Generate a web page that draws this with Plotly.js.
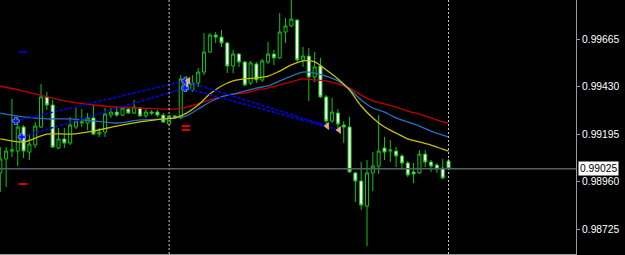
<!DOCTYPE html>
<html>
<head>
<meta charset="utf-8">
<script src="https://cdn.plot.ly/plotly-3.0.1.min.js"></script>
<style>
  html, body { margin: 0; padding: 0; background: #000; }
  #chart { width: 625px; height: 255px; }
</style>
</head>
<body>
<div id="chart"></div>
<script>
// ---- candle data (bar index, OHLC) ----
const barIndex = Array.from({length: 78}, (_, i) => i);
const openP = [0.99004,0.99073,0.99112,0.99112,0.99231,0.99107,0.99142,0.99231,0.99380,0.99340,
               0.99127,0.99172,0.99152,0.99231,0.99251,0.99251,0.99276,0.99196,0.99206,0.99290,
               0.99305,0.99290,0.99320,0.99300,0.99325,0.99286,0.99305,0.99305,0.99290,0.99246,
               0.99286,0.99276,0.99469,0.99414,0.99449,0.99503,0.99602,0.99686,0.99676,0.99647,
               0.99533,0.99592,0.99553,0.99449,0.99543,0.99464,0.99553,0.99592,0.99573,0.99701,
               0.99731,0.99760,0.99563,0.99582,0.99478,0.99533,0.99380,0.99261,0.99300,0.99241,
               0.99231,0.99004,0.98964,0.98840,0.99004,0.99038,0.99127,0.99112,0.99112,0.99088,
               0.99053,0.99009,0.99004,0.99097,0.99058,0.99043,0.99028,0.99063];
const highP = [0.99132,0.99132,0.99370,0.99281,0.99241,0.99196,0.99256,0.99444,0.99404,0.99365,
               0.99226,0.99226,0.99281,0.99325,0.99320,0.99300,0.99340,0.99226,0.99325,0.99325,
               0.99330,0.99330,0.99330,0.99365,0.99330,0.99320,0.99315,0.99315,0.99300,0.99290,
               0.99290,0.99488,0.99483,0.99488,0.99523,0.99696,0.99696,0.99701,0.99711,0.99652,
               0.99612,0.99597,0.99558,0.99558,0.99553,0.99568,0.99652,0.99612,0.99795,0.99770,
               0.99862,0.99765,0.99627,0.99622,0.99602,0.99573,0.99389,0.99375,0.99320,0.99261,
               0.99281,0.99009,0.99058,0.99068,0.99107,0.99290,0.99182,0.99167,0.99132,0.99097,
               0.99063,0.99053,0.99117,0.99117,0.99068,0.99053,0.99073,0.99073];
const lowP  = [0.98910,0.98934,0.99083,0.99038,0.99078,0.99068,0.99127,0.99226,0.99315,0.99127,
               0.99122,0.99127,0.99142,0.99221,0.99231,0.99216,0.99191,0.99182,0.99182,0.99276,
               0.99281,0.99286,0.99295,0.99295,0.99281,0.99276,0.99290,0.99281,0.99251,0.99241,
               0.99271,0.99271,0.99404,0.99404,0.99429,0.99488,0.99597,0.99647,0.99627,0.99498,
               0.99498,0.99528,0.99434,0.99439,0.99449,0.99454,0.99543,0.99538,0.99568,0.99647,
               0.99726,0.99553,0.99528,0.99360,0.99454,0.99375,0.99231,0.99251,0.99226,0.99152,
               0.99004,0.98860,0.98821,0.98642,0.98914,0.98999,0.99068,0.99058,0.99033,0.99018,
               0.98984,0.98954,0.98999,0.99033,0.99009,0.99004,0.98974,0.99023];
const closeP = [0.99073,0.99112,0.99117,0.99231,0.99112,0.99147,0.99236,0.99380,0.99340,0.99132,
               0.99172,0.99152,0.99241,0.99261,0.99256,0.99276,0.99196,0.99206,0.99295,0.99305,
               0.99290,0.99325,0.99300,0.99330,0.99286,0.99305,0.99300,0.99290,0.99256,0.99286,
               0.99276,0.99469,0.99414,0.99449,0.99503,0.99602,0.99686,0.99676,0.99647,0.99533,
               0.99592,0.99553,0.99439,0.99548,0.99464,0.99558,0.99592,0.99573,0.99701,0.99731,
               0.99765,0.99563,0.99582,0.99478,0.99528,0.99380,0.99261,0.99305,0.99246,0.99231,
               0.99009,0.98964,0.98845,0.99004,0.99038,0.99112,0.99107,0.99117,0.99088,0.99053,
               0.98994,0.98999,0.99097,0.99058,0.99038,0.99023,0.98979,0.99025];

// ---- moving averages (sampled at bar indices) ----
const maIndex = [0,4,8,12,16,20,24,28,30,32,34,36,38,40,42,44,46,48,50,52,54,56,58,60,62,64,66,68,70,72,74,76,77];
const maRed = [0.99434,0.99409,0.99380,0.99355,0.99340,0.99330,0.99325,0.99320,0.99320,0.99330,0.99345,
               0.99365,0.99380,0.99394,0.99399,0.99414,0.99424,0.99439,0.99454,0.99469,0.99464,0.99459,
               0.99444,0.99424,0.99389,0.99360,0.99345,0.99330,0.99310,0.99295,0.99276,0.99256,0.99251];
const maBlue = [0.99300,0.99281,0.99271,0.99271,0.99261,0.99251,0.99266,0.99271,0.99276,0.99286,0.99320,
               0.99355,0.99380,0.99394,0.99409,0.99424,0.99434,0.99459,0.99483,0.99503,0.99498,0.99483,
               0.99459,0.99419,0.99365,0.99325,0.99305,0.99276,0.99256,0.99236,0.99211,0.99191,0.99182];
const maYellow = [0.99172,0.99157,0.99196,0.99196,0.99211,0.99236,0.99256,0.99271,0.99276,0.99300,0.99340,
               0.99394,0.99434,0.99459,0.99469,0.99474,0.99483,0.99508,0.99538,0.99558,0.99553,0.99513,
               0.99469,0.99414,0.99335,0.99276,0.99231,0.99201,0.99172,0.99157,0.99142,0.99122,0.99112];

// ---- trade history ----
const tradeOpenIdx   = [2.66, 3.69, 31.75, 31.75];
const tradeOpenPx    = [0.99261, 0.99182, 0.99459, 0.99424];
const tradeCloseIdx  = [31.75, 31.75, 56.15, 58.2];
const tradeClosePx   = [0.99459, 0.99424, 0.99236, 0.99216];
const crossIdx = [2.66, 3.69, 31.75, 31.75];
const crossPx  = [0.99261, 0.99182, 0.99459, 0.99424];
const triIdx = [32.3, 56.15, 58.2];
const triPx  = [0.99460, 0.99236, 0.99216];
const slIdx = [3.9, 31.9, 31.9];
const slPx  = [0.98949, 0.99236, 0.99216];
const tpIdx = [3.9];
const tpPx  = [0.99602];

// ---- axis ----
const yTicks = [0.99665, 0.99430, 0.99195, 0.98960, 0.98725];
const yTickText = yTicks.map(v => v.toFixed(5));
const bidPrice = 0.99025;
const separators = [29, 77];

const green = '#12c412';
const traces = [];

traces.push({type:'scatter', mode:'lines', x: maIndex, y: maRed,
  line:{color:'#c00000', width:1.3, shape:'spline', smoothing:0.8}, hoverinfo:'skip'});
traces.push({type:'scatter', mode:'lines', x: maIndex, y: maBlue,
  line:{color:'#2a70c0', width:1.3, shape:'spline', smoothing:0.8}, hoverinfo:'skip'});
traces.push({type:'scatter', mode:'lines', x: maIndex, y: maYellow,
  line:{color:'#c8c000', width:1.3, shape:'spline', smoothing:0.8}, hoverinfo:'skip'});

for (let k = 0; k < tradeOpenIdx.length; k++) {
  traces.push({type:'scatter', mode:'lines',
    x:[tradeOpenIdx[k], tradeCloseIdx[k]], y:[tradeOpenPx[k], tradeClosePx[k]],
    line:{color:'#0000ff', width:1.6, dash:'3px,2px'}, hoverinfo:'skip'});
}

traces.push({type:'candlestick', x: barIndex, open: openP, high: highP, low: lowP, close: closeP,
  increasing:{line:{color:green, width:1}, fillcolor:'#000000'},
  decreasing:{line:{color:green, width:1}, fillcolor:'#ffffff'},
  whiskerwidth:0, hoverinfo:'skip'});

traces.push({type:'scatter', mode:'markers', x: crossIdx, y: crossPx,
  marker:{symbol:'cross', size:6, color:'#0010ff', line:{color:'#8090ff', width:0.8}}, hoverinfo:'skip'});
traces.push({type:'scatter', mode:'markers', x: triIdx, y: triPx,
  marker:{symbol:'triangle-left', size:6, color:'#e8a868', line:{color:'#ffe0c0', width:0.5}}, hoverinfo:'skip'});
traces.push({type:'scatter', mode:'markers', x: slIdx, y: slPx,
  marker:{symbol:'line-ew', size:6, line:{color:'#e00000', width:2}}, hoverinfo:'skip'});
traces.push({type:'scatter', mode:'markers', x: tpIdx, y: tpPx,
  marker:{symbol:'line-ew', size:6, line:{color:'#0000c0', width:2}}, hoverinfo:'skip'});

const shapes = separators.map(s => ({type:'line', xref:'x', yref:'paper', x0:s, x1:s, y0:0, y1:1,
  line:{color:'#c8c8c8', width:1, dash:'2px,2px'}}));
shapes.push({type:'line', xref:'paper', yref:'y', x0:0, x1:1, y0:bidPrice, y1:bidPrice,
  line:{color:'#56606c', width:1.5}});

const layout = {
  width:625, height:255,
  margin:{l:0, r:49, t:0, b:1, pad:0},
  paper_bgcolor:'#000000', plot_bgcolor:'#000000',
  showlegend:false,
  xaxis:{range:[-0.05, 98.9], showgrid:false, zeroline:false, showticklabels:false, ticks:'',
    showline:true, linecolor:'#9a9a9a', linewidth:1, rangeslider:{visible:false}, fixedrange:true},
  yaxis:{range:[0.986029, 0.998594], side:'right', showgrid:false, zeroline:false,
    tickvals:yTicks, ticktext:yTickText, ticks:'outside', ticklen:3, tickcolor:'#9a9a9a', tickwidth:1,
    tickfont:{family:'Liberation Sans, Arial, sans-serif', size:10.3, color:'#ffffff'},
    showline:true, linecolor:'#9a9a9a', linewidth:1, fixedrange:true},
  shapes: shapes,
  annotations:[{xref:'paper', yref:'y', x:1, y:bidPrice, xanchor:'left', yanchor:'middle', xshift:2,
    text: bidPrice.toFixed(5), showarrow:false, bgcolor:'#ffffff', borderpad:1,
    font:{family:'Liberation Sans, Arial, sans-serif', size:10.3, color:'#000000'}}],
  boxgap:0.25
};

Plotly.newPlot('chart', traces, layout, {displayModeBar:false, staticPlot:true});
</script>
</body>
</html>
